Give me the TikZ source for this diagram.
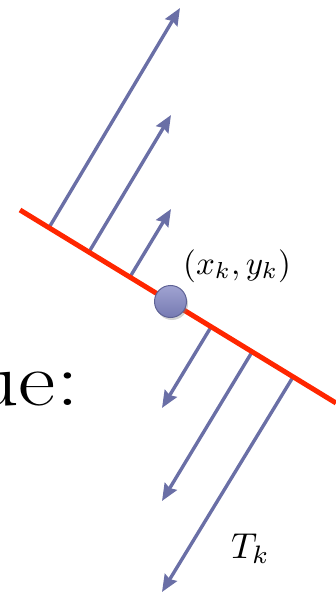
\documentclass[tikz,border=0pt]{standalone}
\usepackage{graphicx}
\usetikzlibrary{arrows.meta,shadows}
\definecolor{arrowc}{RGB}{106,111,166}
\definecolor{linec}{RGB}{255,38,0}
\definecolor{balltop}{RGB}{160,163,210}
\definecolor{ballbot}{RGB}{118,122,178}
\definecolor{balld}{RGB}{95,99,150}
\tikzset{
  vec/.style={draw=arrowc, line width=3.4pt, -{Stealth[length=17pt,width=14pt,inset=2pt]}},
  surf/.style={draw=linec, line width=5pt},
  pt/.style={circle, minimum size=32pt, inner sep=0pt, top color=balltop, bottom color=ballbot, draw=balld, line width=1pt,
     drop shadow={opacity=0.35, shadow xshift=1.5pt, shadow yshift=-2.5pt}},
  lbl/.style={inner sep=0pt}
}
\begin{document}
\begin{tikzpicture}[x=1pt,y=-1pt]
\useasboundingbox (0,0) rectangle (336,593);
\clip (0,0) rectangle (336,593);
% surface end points
\coordinate (s1) at (20,210);
\coordinate (s2) at (336,403);
% arrow bases and tips
\coordinate (b1) at (49,227.7);
\coordinate (t1) at (180,8);
\coordinate (b2) at (89,252);
\coordinate (t2) at (171,115);
\coordinate (b3) at (130,277);
\coordinate (t3) at (171,209);
\coordinate (b4) at (211,327);
\coordinate (t4) at (162,408);
\coordinate (b5) at (252,352);
\coordinate (t5) at (162,501);
\coordinate (b6) at (293,377);
\coordinate (t6) at (162,592);
% text
\node[lbl, anchor=base east, font=\fontsize{76}{80}\selectfont] (word) at (79,405) {\scalebox{1.2}[1]{ue:}};
% arrows
\foreach \i in {1,...,6} \draw[vec] (b\i) -- (t\i);
% surface
\draw[surf] (s1) -- (s2);
% point
\node[pt] (p) at (170.5,301.5) {};
\node[lbl, anchor=base west] (xy) at (183,274) {\scalebox{3.3}{$(x_k,y_k)$}};
\node[lbl, anchor=base west] (tk) at (231,558) {\scalebox{3.6}{$T_k$}};
\end{tikzpicture}
\end{document}
